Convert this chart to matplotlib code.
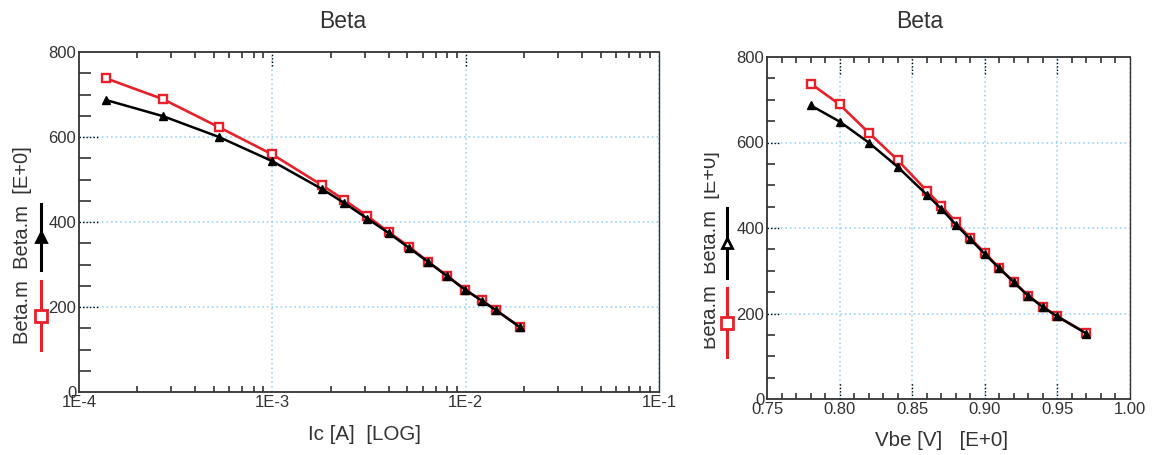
import numpy as np
import matplotlib.pyplot as plt
from matplotlib.lines import Line2D
from matplotlib.ticker import FixedLocator, MultipleLocator, LogLocator, NullFormatter
from matplotlib.transforms import Bbox, TransformedBbox

plt.rcParams['font.family'] = ['Liberation Sans', 'DejaVu Sans']

ic = [1.38e-4, 2.72e-4, 5.3e-4, 1.0e-3, 1.8e-3, 2.35e-3, 3.1e-3, 4.0e-3,
      5.1e-3, 6.4e-3, 8.0e-3, 9.9e-3, 1.21e-2, 1.43e-2, 1.9e-2]
vbe = [0.78, 0.80, 0.82, 0.84, 0.86, 0.87, 0.88, 0.89,
       0.90, 0.91, 0.92, 0.93, 0.94, 0.95, 0.97]
beta_red = [738, 689, 623, 559, 487, 452, 414, 376, 342, 306, 274, 241, 216, 193, 154]
beta_black = [687, 649, 600, 543, 478, 445, 408, 374, 339, 306, 273, 241, 215, 193, 153]

W, H = 1152, 455
RED = '#e8202a'
GRID = '#8fd0f2'
TXT = '#333333'

fig = plt.figure(figsize=(W / 100, H / 100), dpi=100)


def px_axes(x0, y0, x1, y1):
    # pixel box (top-left origin) -> figure fraction
    return fig.add_axes([x0 / W, 1 - y1 / H, (x1 - x0) / W, (y1 - y0) / H])


def style(ax, ylen, stub):
    for s in ax.spines.values():
        s.set_color('#333333')
        s.set_linewidth(1.3)
    ax.spines['right'].set_linewidth(1.0)
    ax.tick_params(which='major', length=0, labelsize=12, labelcolor=TXT, pad=2)
    ax.tick_params(which='minor', direction='in', length=4.5, width=1.2, color='#333333',
                   top=True, bottom=True, left=False, right=False)
    ax.tick_params(axis='y', which='minor', length=ylen, left=True)
    ax.grid(True, which='major', color=GRID, linestyle=(0, (1, 2)), linewidth=1.1)
    ax.set_ylim(0, 800)
    ax.yaxis.set_major_locator(FixedLocator([0, 200, 400, 600, 800]))
    ax.yaxis.set_minor_locator(MultipleLocator(50))
    # short black dotted stubs at major gridlines
    for yv in [200, 400, 600]:
        ax.plot([0, stub], [yv, yv], transform=ax.get_yaxis_transform(),
                color='black', linestyle=(0, (1, 1.5)), linewidth=1.0, clip_on=False)


def draw(ax, x):
    ax.plot(x, beta_red, color=RED, linewidth=1.9, marker='s', markersize=5.5,
            markerfacecolor='white', markeredgecolor=RED, markeredgewidth=1.7, zorder=3)
    ax.plot(x, beta_black, color='black', linewidth=1.8, marker='^', markersize=5.5,
            markerfacecolor='black', markeredgecolor='black', zorder=4)


# ---- left: Beta vs Ic (log) ----
ax1 = px_axes(79, 52, 659, 392)
style(ax1, 8.5, 0.035)
draw(ax1, ic)
ax1.set_xscale('log')
ax1.set_xlim(1e-4, 1e-1)
ax1.xaxis.set_major_locator(FixedLocator([1e-4, 1e-3, 1e-2, 1e-1]))
ax1.set_xticklabels(['1E-4', '1E-3', '1E-2', '1E-1'])
ax1.xaxis.set_minor_locator(LogLocator(base=10, subs=np.arange(2, 10)))
ax1.xaxis.set_minor_formatter(NullFormatter())
ax1.set_yticklabels(['0', '200', '400', '600', '800'])
for xv in [1e-3, 1e-2]:
    ax1.plot([xv, xv], [0.96, 1.0], transform=ax1.get_xaxis_transform(),
             color='black', linestyle=(0, (1, 1.5)), linewidth=1.0, clip_on=False)

# ---- right: Beta vs Vbe ----
ax2 = px_axes(767, 57, 1130, 399)
style(ax2, 5.5, 0.035)
draw(ax2, vbe)
ax2.set_xlim(0.75, 1.00)
ax2.xaxis.set_major_locator(FixedLocator([0.75, 0.80, 0.85, 0.90, 0.95, 1.00]))
ax2.set_xticklabels(['0.75', '0.80', '0.85', '0.90', '0.95', '1.00'])
ax2.xaxis.set_minor_locator(MultipleLocator(0.01))
ax2.set_yticklabels(['0', '200', '400', '600', '800'])
for xv in [0.80, 0.85, 0.90, 0.95]:
    ax2.plot([xv, xv], [0.95, 1.0], transform=ax2.get_xaxis_transform(),
             color='black', linestyle=(0, (1, 1.5)), linewidth=1.0, clip_on=False)
    ax2.plot([xv, xv], [0.0, 0.05], transform=ax2.get_xaxis_transform(),
             color='black', linestyle=(0, (1, 1.5)), linewidth=1.0, clip_on=False)

# titles and axis labels
fig.text(343 / W, 1 - 22 / H, 'Beta', ha='center', va='center', fontsize=16.5, color=TXT)
fig.text(920 / W, 1 - 22 / H, 'Beta', ha='center', va='center', fontsize=16.5, color=TXT)
fig.text(365 / W, 1 - 435 / H, 'Ic [A]  [LOG]', ha='center', va='center', fontsize=14.8, color=TXT)
fig.text(942 / W, 1 - 441 / H, 'Vbe [V]   [E+0]', ha='center', va='center', fontsize=14.8, color=TXT)

ylab = 'Beta.m  Beta.m  [E+0]'
fig.text(23 / W, 1 - 245 / H, ylab, rotation=90, ha='center', va='center',
         fontsize=14.5, color=TXT)
t = fig.text(711 / W, 1 - 250 / H, ylab, rotation=90, ha='center', va='center',
             fontsize=14.5, color=TXT)
t.set_clip_box(TransformedBbox(Bbox.from_extents(704 / W, 0, 1, 1), fig.transFigure))
t.set_clip_on(True)


# legend-like keys beside the y labels
def key(x, y0, y1, color, marker, face):
    xs = [x / W, x / W]
    fig.add_artist(Line2D(xs, [1 - y0 / H, 1 - y1 / H], color=color, linewidth=2.2))
    ym = 1 - (y0 + y1) / 2 / H
    fig.add_artist(Line2D([x / W], [ym], marker=marker, markersize=8 if marker == 's' else 7,
                          markerfacecolor=face, markeredgecolor=color, markeredgewidth=2,
                          linestyle='none'))


key(41, 204, 270, 'black', '^', 'black')
key(41, 281, 350, RED, 's', 'white')
key(727, 208, 278, 'black', '^', 'white')
key(727, 288, 357, RED, 's', 'white')

fig.savefig('out.png', dpi=100)
